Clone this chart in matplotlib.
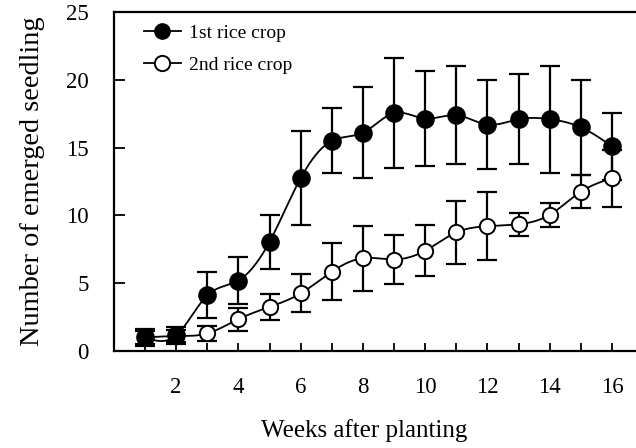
import numpy as np
import matplotlib
matplotlib.use('Agg')
import matplotlib.pyplot as plt
from matplotlib.lines import Line2D

plt.rcParams['font.family'] = ['Liberation Serif', 'DejaVu Serif']

weeks = np.arange(1, 17)
crop1 = [1.0, 1.15, 4.1, 5.2, 8.05, 12.75, 15.5, 16.1, 17.55, 17.15, 17.4, 16.7, 17.1, 17.1, 16.5, 15.1]
crop1_err = [0.6, 0.6, 1.7, 1.7, 2.0, 3.45, 2.4, 3.35, 4.05, 3.5, 3.6, 3.3, 3.3, 3.95, 3.5, 2.45]
crop2 = [1.0, 1.1, 1.3, 2.35, 3.25, 4.25, 5.85, 6.85, 6.75, 7.4, 8.75, 9.2, 9.35, 10.05, 11.75, 12.75]
crop2_err = [0.45, 0.45, 0.55, 0.85, 0.95, 1.4, 2.1, 2.4, 1.8, 1.9, 2.3, 2.5, 0.85, 0.9, 1.2, 2.1]
labels = ['1st rice crop', '2nd rice crop']


def natural_spline(x, y, n=400):
    # natural cubic spline through the points, for the smooth connecting curve
    x = np.asarray(x, float)
    y = np.asarray(y, float)
    k = len(x)
    h = np.diff(x)
    A = np.zeros((k, k))
    b = np.zeros(k)
    A[0, 0] = A[-1, -1] = 1
    for i in range(1, k - 1):
        A[i, i - 1] = h[i - 1]
        A[i, i] = 2 * (h[i - 1] + h[i])
        A[i, i + 1] = h[i]
        b[i] = 6 * ((y[i + 1] - y[i]) / h[i] - (y[i] - y[i - 1]) / h[i - 1])
    m = np.linalg.solve(A, b)
    xs = np.linspace(x[0], x[-1], n)
    idx = np.clip(np.searchsorted(x, xs) - 1, 0, k - 2)
    x0, x1 = x[idx], x[idx + 1]
    hh = x1 - x0
    t0, t1 = x1 - xs, xs - x0
    ys = (m[idx] * t0 ** 3 + m[idx + 1] * t1 ** 3) / (6 * hh) \
        + (y[idx] / hh - m[idx] * hh / 6) * t0 \
        + (y[idx + 1] / hh - m[idx + 1] * hh / 6) * t1
    return xs, ys


fig = plt.figure(figsize=(6.36, 4.48), dpi=100)
ax = fig.add_axes([0.179, 0.2165, 0.821, 0.7565])

for vals, errs, face in [(crop2, crop2_err, 'white'), (crop1, crop1_err, 'black')]:
    xs, ys = natural_spline(weeks, vals)
    ax.plot(xs, ys, color='black', lw=1.3, zorder=2)
    ax.errorbar(weeks, vals, yerr=errs, fmt='none', ecolor='black',
                elinewidth=1.6, capsize=7, capthick=1.6, zorder=3)
    ax.plot(weeks, vals, 'o', ms=12 if face == 'black' else 11,
            mfc=face, mec='black', mew=1.4, zorder=4)

ax.set_xlim(0, 16.77)
ax.set_ylim(0, 25)
ax.set_xticks(range(2, 17, 2))
ax.set_xticks(range(1, 17, 2), minor=True)
ax.set_yticks(range(0, 26, 5))
ax.tick_params(axis='x', which='both', direction='in', length=6, width=1.3,
               labelsize=16.5, pad=19)
ax.tick_params(axis='y', direction='in', length=8, width=1.3, labelsize=16.5, pad=18)
for s in ['left', 'bottom', 'top']:
    ax.spines[s].set_linewidth(1.6)
ax.spines['right'].set_visible(False)

ax.set_ylabel('Number of emerged seedling', fontsize=20.4)
ax.yaxis.set_label_coords(-0.132, 0.5)
ax.set_xlabel('Weeks after planting', fontsize=18)
ax.xaxis.set_label_coords(0.48, -0.2)

handles = [
    Line2D([], [], color='black', lw=1.3, marker='o', ms=11, mfc='black', mec='black'),
    Line2D([], [], color='black', lw=1.3, marker='o', ms=11, mfc='white', mec='black', mew=1.4),
]
ax.legend(handles, labels, loc='upper left', bbox_to_anchor=(0.057, 0.965),
          frameon=False, fontsize=14, handlelength=1.9, handletextpad=0.45,
          labelspacing=0.75, borderaxespad=0, borderpad=0)

fig.savefig('out.png', dpi=100)
